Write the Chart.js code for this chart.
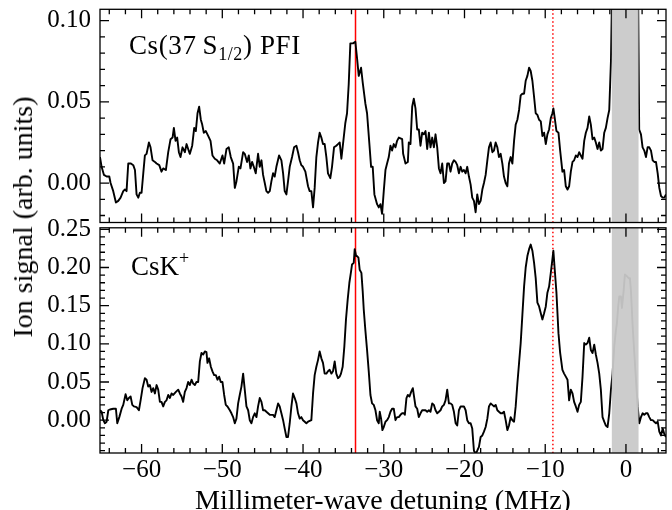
<!DOCTYPE html>
<html>
<head>
<meta charset="utf-8">
<script src="https://cdn.jsdelivr.net/npm/chart.js@4.4.0/dist/chart.umd.min.js"></script>
<style>
html, body { margin: 0; padding: 0; background: #fff; overflow: hidden; }
#wrap { position: relative; width: 672px; height: 510px; font-family: "Liberation Serif", serif; color: #000; }
canvas { position: absolute; left: 0; }
.txt { position: absolute; white-space: nowrap; line-height: 1; }
</style>
</head>
<body>
<div id="wrap">
  <canvas id="chartPfi" width="672" height="226" style="top:0;width:672px;height:226px"></canvas>
  <canvas id="chartCsk" width="672" height="314" style="top:196px;width:672px;height:314px"></canvas>
  <div class="txt" id="annPfi" style="left:129px;top:32px;font-size:27px;letter-spacing:0.6px">Cs(37&#8201;S<span style="font-size:18px;position:relative;top:6px">1/2</span>)&nbsp;PFI</div>
  <div class="txt" id="annCsk" style="left:131px;top:253px;font-size:27px">CsK<span style="font-size:18px;position:relative;top:-11px">+</span></div>
  <div class="txt" id="yTitle" style="left:23px;top:217px;font-size:28px;transform:translate(-50%,-50%) rotate(-90deg)">Ion signal (arb. units)</div>
  <div class="txt" id="xTitle" style="left:383px;top:486px;font-size:28px;transform:translateX(-50%)">Millimeter-wave detuning (MHz)</div>
</div>
<script>
// detuning axis (MHz) + signals
const freqPfi = [
  -65.15, -64.95, -64.66, -64.33, -64.00, -63.84, -63.51, -63.18, -62.89, -62.60,
  -62.27, -62.06, -61.86, -61.65, -61.32, -61.03, -60.82, -60.62, -60.41, -60.21,
  -60.00, -59.79, -59.59, -59.38, -59.09, -58.89, -58.64, -58.35, -58.14, -57.81,
  -57.53, -57.32, -56.99, -56.70, -56.41, -56.16, -56.00, -55.79, -55.59, -55.38,
  -55.18, -54.93, -54.64, -54.43, -54.23, -54.02, -53.73, -53.48, -53.28, -53.07,
  -52.87, -52.66, -52.49, -52.29, -52.04, -51.75, -51.46, -51.22, -50.93, -50.64,
  -50.31, -49.98, -49.77, -49.48, -49.20, -48.95, -48.66, -48.45, -48.25, -47.96,
  -47.75, -47.42, -47.22, -46.93, -46.72, -46.52, -46.31, -46.10, -45.86, -45.57,
  -45.36, -45.15, -44.95, -44.74, -44.54, -44.33, -44.12, -43.92, -43.71, -43.51,
  -43.30, -42.97, -42.68, -42.47, -42.27, -42.06, -41.86, -41.65, -41.36, -41.11,
  -40.82, -40.62, -40.41, -40.21, -40.00, -39.71, -39.38, -39.18, -38.97, -38.76,
  -38.56, -38.35, -38.14, -37.94, -37.73, -37.53, -37.32, -37.11, -36.91, -36.62,
  -36.41, -36.16, -35.88, -35.67, -35.46, -35.25, -35.05, -34.76, -34.55, -34.34,
  -34.14, -33.81, -33.52, -33.31, -33.10, -32.81, -32.61, -32.28, -32.07, -31.78,
  -31.57, -31.37, -31.16, -30.83, -30.62, -30.41, -30.21, -30.00, -29.79, -29.59,
  -29.38, -29.17, -28.97, -28.76, -28.55, -28.35, -28.14, -27.72, -27.60, -27.31,
  -27.02, -26.90, -26.69, -26.48, -26.28, -26.07, -25.86, -25.66, -25.45, -25.24,
  -25.04, -24.83, -24.62, -24.41, -24.21, -24.00, -23.79, -23.59, -23.38, -23.17,
  -22.97, -22.76, -22.55, -22.35, -22.14, -21.93, -21.73, -21.52, -21.31, -21.10,
  -20.90, -20.69, -20.48, -20.28, -20.07, -19.86, -19.66, -19.45, -19.24, -19.04,
  -18.83, -18.62, -18.42, -18.21, -18.00, -17.79, -17.59, -17.38, -17.17, -16.97,
  -16.76, -16.55, -16.35, -16.14, -15.93, -15.73, -15.52, -15.31, -15.11, -14.90,
  -14.69, -14.49, -14.28, -14.07, -13.86, -13.66, -13.45, -13.24, -13.04, -12.83,
  -12.62, -12.42, -12.21, -12.00, -11.80, -11.59, -11.38, -11.18, -10.97, -10.76,
  -10.55, -10.35, -10.14, -9.93, -9.73, -9.52, -9.31, -9.11, -8.99, -8.82,
  -8.61, -8.36, -8.15, -7.87, -7.66, -7.45, -7.24, -7.04, -6.83, -6.62,
  -6.42, -6.21, -6.00, -5.80, -5.59, -5.38, -5.17, -4.97, -4.76, -4.55,
  -4.35, -4.14, -3.93, -3.73, -3.52, -3.31, -3.11, -2.90, -2.69, -2.49,
  -2.28, -2.07, -1.86, -1.70, -1.45, -1.20, -0.95, -0.70, -0.45, -0.20,
  0.05, 0.30, 0.55, 0.80, 1.05, 1.30, 1.50, 1.64, 1.86, 2.06,
  2.27, 2.48, 2.68, 2.89, 3.10, 3.31, 3.51, 3.72, 3.93, 4.13,
  4.34, 4.55, 4.75, 4.96
];
const pfiSignal = [
  0.016, 0.010, 0.005, 0.004, 0.004, 0.000, -0.005, -0.012, -0.011, -0.009,
  -0.005, -0.004, -0.005, 0.012, 0.012, 0.011, 0.008, -0.007, -0.009, -0.006,
  -0.006, 0.006, 0.017, 0.018, 0.025, 0.022, 0.014, 0.013, 0.012, 0.011,
  0.007, 0.009, 0.008, 0.019, 0.027, 0.028, 0.034, 0.026, 0.028, 0.019,
  0.016, 0.022, 0.019, 0.024, 0.021, 0.018, 0.023, 0.034, 0.032, 0.043,
  0.047, 0.039, 0.036, 0.031, 0.032, 0.029, 0.026, 0.017, 0.015, 0.014,
  0.012, 0.017, 0.012, 0.021, 0.022, 0.016, 0.012, -0.003, 0.001, 0.010,
  0.009, 0.019, 0.018, 0.013, 0.017, 0.009, 0.013, 0.010, 0.006, 0.018,
  0.010, 0.014, 0.005, 0.000, -0.005, -0.006, -0.005, 0.001, 0.006, 0.004,
  0.010, 0.017, 0.014, 0.006, -0.005, -0.007, 0.001, 0.010, 0.016, 0.022,
  0.023, 0.019, 0.014, 0.011, 0.010, 0.007, -0.002, -0.005, -0.005, -0.015,
  -0.003, 0.016, 0.025, 0.031, 0.028, 0.024, 0.024, 0.016, 0.006, 0.003,
  0.010, 0.022, 0.023, 0.024, 0.025, 0.015, 0.024, 0.037, 0.043, 0.061,
  0.086, 0.086, 0.087, 0.077, 0.066, 0.071, 0.062, 0.049, 0.043, 0.024,
  0.010, 0.010, -0.007, -0.013, -0.015, -0.013, -0.019, -0.005, 0.008, 0.012,
  0.016, 0.023, 0.020, 0.024, 0.022, 0.026, 0.028, 0.027, 0.018, 0.012,
  0.013, 0.025, 0.024, 0.047, 0.052, 0.046, 0.033, 0.033, 0.023, 0.031,
  0.030, 0.032, 0.021, 0.031, 0.022, 0.028, 0.022, 0.030, 0.022, 0.009,
  0.006, 0.012, 0.000, 0.001, 0.012, 0.012, 0.007, 0.012, 0.014, 0.013,
  0.011, 0.006, 0.010, 0.007, 0.008, 0.006, 0.010, 0.004, -0.001, -0.009,
  -0.011, -0.018, -0.007, -0.013, -0.011, -0.004, 0.000, 0.005, 0.014, 0.022,
  0.025, 0.019, 0.020, 0.025, 0.022, 0.016, 0.018, 0.012, 0.004, 0.000,
  -0.002, 0.012, 0.016, 0.012, 0.026, 0.036, 0.039, 0.045, 0.054, 0.055,
  0.055, 0.063, 0.066, 0.071, 0.069, 0.063, 0.053, 0.043, 0.042, 0.039,
  0.038, 0.029, 0.031, 0.024, 0.030, 0.033, 0.040, 0.043, 0.046, 0.040,
  0.032, 0.031, 0.020, 0.007, 0.008, -0.002, -0.004, -0.002, 0.007, 0.013,
  0.014, 0.017, 0.016, 0.019, 0.017, 0.015, 0.026, 0.031, 0.034, 0.041,
  0.036, 0.027, 0.028, 0.025, 0.021, 0.025, 0.020, 0.021, 0.031, 0.034,
  0.040, 0.045, 0.075, 0.125, 0.140, 0.155, 0.160, 0.155, 0.165, 0.175,
  0.180, 0.170, 0.160, 0.150, 0.140, 0.130, 0.120, 0.033, 0.030, 0.022,
  0.020, 0.016, 0.022, 0.022, 0.020, 0.014, 0.013, 0.013, 0.006, -0.003,
  -0.008, -0.009, -0.009, -0.007
];

const freqCsk = [
  -65.15, -64.95, -64.74, -64.54, -64.33, -64.12, -63.92, -63.51, -63.18, -63.01,
  -62.76, -62.47, -62.27, -61.98, -61.77, -61.57, -61.36, -61.15, -60.95, -60.62,
  -60.33, -60.12, -59.88, -59.59, -59.38, -59.18, -58.97, -58.76, -58.56, -58.35,
  -58.14, -57.94, -57.73, -57.53, -57.32, -57.11, -56.91, -56.70, -56.49, -56.29,
  -56.08, -55.75, -55.46, -55.26, -55.05, -54.85, -54.64, -54.43, -54.23, -54.02,
  -53.81, -53.61, -53.40, -53.20, -52.99, -52.78, -52.58, -52.37, -52.16, -51.96,
  -51.84, -51.63, -51.42, -51.22, -51.01, -50.80, -50.60, -50.39, -50.19, -49.98,
  -49.77, -49.57, -49.36, -49.07, -48.87, -48.66, -48.45, -48.25, -48.04, -47.84,
  -47.63, -47.42, -47.22, -47.01, -46.80, -46.60, -46.39, -46.19, -45.98, -45.77,
  -45.57, -45.36, -45.15, -44.95, -44.74, -44.54, -44.33, -44.12, -43.92, -43.71,
  -43.51, -43.30, -43.09, -42.89, -42.68, -42.47, -42.27, -42.06, -41.86, -41.65,
  -41.44, -41.24, -41.03, -40.82, -40.62, -40.41, -40.21, -40.00, -39.79, -39.59,
  -39.38, -38.97, -38.76, -38.56, -38.35, -38.14, -37.94, -37.73, -37.53, -37.32,
  -37.11, -36.91, -36.70, -36.49, -36.29, -36.08, -35.88, -35.67, -35.46, -35.30,
  -35.09, -34.88, -34.68, -34.47, -34.26, -34.05, -33.93, -33.72, -33.60, -33.43,
  -33.31, -33.14, -32.98, -32.77, -32.61, -32.48, -32.28, -32.07, -31.86, -31.65,
  -31.45, -31.24, -31.03, -30.83, -30.62, -30.50, -30.33, -30.17, -30.00, -29.79,
  -29.59, -29.38, -29.17, -28.97, -28.76, -28.55, -28.35, -28.14, -27.93, -27.72,
  -27.52, -27.39, -27.19, -27.02, -26.81, -26.61, -26.40, -26.28, -26.07, -25.86,
  -25.66, -25.45, -25.24, -25.04, -24.83, -24.62, -24.41, -24.21, -24.00, -23.79,
  -23.59, -23.38, -23.17, -22.97, -22.76, -22.55, -22.35, -22.14, -21.93, -21.73,
  -21.52, -21.31, -21.10, -20.90, -20.69, -20.48, -20.28, -20.07, -19.86, -19.66,
  -19.45, -19.24, -19.04, -18.83, -18.62, -18.42, -18.21, -18.00, -17.79, -17.59,
  -17.38, -17.17, -16.97, -16.76, -16.55, -16.35, -16.14, -15.93, -15.73, -15.52,
  -15.31, -15.11, -14.90, -14.69, -14.49, -14.28, -14.07, -13.86, -13.66, -13.45,
  -13.24, -13.04, -12.83, -12.62, -12.42, -12.21, -12.00, -11.80, -11.59, -11.38,
  -11.18, -10.97, -10.76, -10.55, -10.35, -10.14, -9.93, -9.73, -9.52, -9.31,
  -9.11, -8.99, -8.82, -8.61, -8.36, -8.15, -7.87, -7.66, -7.45, -7.24,
  -7.04, -6.83, -6.62, -6.42, -6.21, -6.00, -5.80, -5.59, -5.38, -5.17,
  -4.97, -4.76, -4.55, -4.35, -4.14, -3.93, -3.73, -3.52, -3.31, -3.11,
  -2.90, -2.69, -2.49, -2.28, -2.07, -1.86, -1.66, -1.45, -1.24, -1.12,
  -0.96, -0.83, -0.62, -0.50, -0.29, -0.13, 0.08, 0.33, 0.49, 0.62,
  0.83, 1.03, 1.24, 1.45, 1.65, 1.86, 2.06, 2.27, 2.48, 2.68,
  2.89, 3.10, 3.31, 3.51, 3.72, 3.93, 4.13, 4.34, 4.55, 4.75,
  4.96
];
const cskSignal = [
  0.013, 0.011, 0.000, -0.004, -0.002, 0.013, 0.014, 0.015, 0.015, -0.004,
  0.004, 0.015, 0.020, 0.034, 0.026, 0.029, 0.031, 0.020, 0.018, 0.017,
  0.013, 0.026, 0.042, 0.055, 0.053, 0.044, 0.046, 0.037, 0.042, 0.035,
  0.046, 0.040, 0.024, 0.024, 0.018, 0.024, 0.026, 0.033, 0.029, 0.035,
  0.033, 0.037, 0.040, 0.035, 0.031, 0.024, 0.037, 0.042, 0.050, 0.046,
  0.053, 0.048, 0.046, 0.050, 0.050, 0.077, 0.088, 0.086, 0.090, 0.089,
  0.075, 0.081, 0.070, 0.064, 0.059, 0.059, 0.053, 0.057, 0.050, 0.050,
  0.033, 0.020, 0.018, 0.013, 0.009, 0.004, -0.004, 0.002, 0.022, 0.033,
  0.044, 0.061, 0.040, 0.018, 0.013, 0.000, -0.004, 0.004, 0.009, 0.004,
  0.018, 0.029, 0.024, 0.013, 0.013, 0.011, 0.009, 0.007, 0.007, 0.007,
  0.004, 0.013, 0.022, 0.018, 0.009, 0.000, -0.011, -0.022, -0.022, -0.004,
  0.018, 0.035, 0.029, 0.022, 0.009, 0.002, 0.004, 0.000, -0.002, -0.004,
  -0.002, 0.000, 0.035, 0.059, 0.070, 0.079, 0.090, 0.081, 0.075, 0.061,
  0.061, 0.064, 0.066, 0.061, 0.064, 0.077, 0.061, 0.055, 0.057, 0.061,
  0.070, 0.097, 0.132, 0.158, 0.180, 0.195, 0.204, 0.206, 0.224, 0.215,
  0.215, 0.213, 0.197, 0.193, 0.169, 0.145, 0.118, 0.092, 0.064, 0.033,
  0.022, 0.020, 0.013, 0.000, -0.004, 0.011, 0.002, -0.013, -0.009, -0.002,
  0.000, 0.004, 0.011, 0.015, 0.015, 0.000, 0.004, 0.004, 0.007, 0.009,
  0.009, 0.007, 0.029, 0.033, 0.031, 0.037, 0.042, 0.033, 0.018, 0.015,
  0.004, 0.009, 0.013, 0.013, 0.013, 0.011, 0.013, 0.011, 0.022, 0.020,
  0.013, 0.009, 0.011, 0.013, 0.018, 0.020, 0.026, 0.040, 0.022, 0.022,
  0.020, 0.011, -0.004, -0.007, 0.013, 0.018, 0.018, 0.018, 0.013, 0.000,
  -0.004, -0.004, -0.011, -0.040, -0.044, -0.040, -0.035, -0.022, -0.020, -0.015,
  -0.009, 0.002, 0.018, 0.022, 0.020, 0.018, 0.020, 0.013, 0.011, 0.009,
  0.009, 0.011, 0.000, -0.013, -0.007, 0.004, 0.000, -0.002, 0.018, 0.048,
  0.075, 0.101, 0.138, 0.175, 0.200, 0.215, 0.224, 0.230, 0.222, 0.206,
  0.186, 0.154, 0.149, 0.140, 0.132, 0.140, 0.149, 0.167, 0.175, 0.193,
  0.211, 0.222, 0.197, 0.167, 0.114, 0.088, 0.066, 0.061, 0.057, 0.053,
  0.026, 0.040, 0.035, 0.024, 0.018, 0.011, 0.020, 0.024, 0.057, 0.101,
  0.099, 0.101, 0.108, 0.092, 0.088, 0.099, 0.086, 0.075, 0.061, 0.040,
  0.004, -0.002, -0.007, -0.009, 0.009, 0.040, 0.061, 0.097, 0.118, 0.127,
  0.149, 0.162, 0.162, 0.147, 0.169, 0.191, 0.189, 0.186, 0.186, 0.169,
  0.123, 0.088, 0.053, 0.018, -0.004, 0.004, 0.009, 0.007, 0.009, 0.009,
  0.004, 0.000, 0.000, -0.002, -0.004, -0.002, -0.015, -0.020, -0.011, -0.018,
  -0.022
];

// ticks
const xMajorTicks = [-60, -50, -40, -30, -20, -10, 0];
const xMinorTicks = [-64, -62, -58, -56, -54, -52, -48, -46, -44, -42, -38, -36, -34, -32,
  -28, -26, -24, -22, -18, -16, -14, -12, -8, -6, -4, -2, 2, 4];
const pfiMajorTicks = [0, 0.05, 0.10];
const pfiMinorTicks = [-0.02, -0.01, 0.01, 0.02, 0.03, 0.04, 0.06, 0.07, 0.08, 0.09];
const cskMajorTicks = [0, 0.05, 0.10, 0.15, 0.20, 0.25];
const cskMinorTicks = [-0.04, -0.03, -0.02, -0.01, 0.01, 0.02, 0.03, 0.04, 0.06, 0.07, 0.08, 0.09,
  0.11, 0.12, 0.13, 0.14, 0.16, 0.17, 0.18, 0.19, 0.21, 0.22, 0.23, 0.24];

// markers
const lineSolidAt = -33.5;
const lineDottedAt = -9.05;
const excludedBand = [-1.75, 1.56];

const xMin = -65.15, xMax = 4.96;
const tickFont = { family: 'Liberation Serif', size: 25 };

const panelDecor = {
  id: 'panelDecor',
  beforeDatasetsDraw(chart) {
    const { ctx, chartArea: a, scales: { x } } = chart;
    ctx.save();
    ctx.beginPath();
    ctx.rect(a.left, a.top, a.right - a.left, a.bottom - a.top);
    ctx.clip();
    ctx.strokeStyle = '#ff0000';
    ctx.lineWidth = 1.5;
    let px = x.getPixelForValue(lineSolidAt);
    ctx.beginPath(); ctx.moveTo(px, a.top); ctx.lineTo(px, a.bottom); ctx.stroke();
    ctx.setLineDash([1.5, 2.5]);
    px = x.getPixelForValue(lineDottedAt);
    ctx.beginPath(); ctx.moveTo(px, a.top); ctx.lineTo(px, a.bottom); ctx.stroke();
    ctx.restore();
  },
  afterDatasetsDraw(chart, args, opts) {
    const { ctx, chartArea: a, scales: { x, y } } = chart;
    ctx.save();
    // grey band drawn over the trace
    const b0 = x.getPixelForValue(excludedBand[0]);
    const b1 = x.getPixelForValue(excludedBand[1]);
    ctx.fillStyle = 'rgba(201,201,201,0.945)';
    ctx.fillRect(b0, a.top, b1 - b0, a.bottom - a.top);

    ctx.strokeStyle = '#000';
    ctx.lineWidth = 1.3;
    ctx.strokeRect(a.left, a.top, a.right - a.left, a.bottom - a.top);

    const ticksX = (vals, len) => vals.forEach(v => {
      const p = x.getPixelForValue(v);
      ctx.beginPath();
      ctx.moveTo(p, a.bottom); ctx.lineTo(p, a.bottom - len);
      ctx.moveTo(p, a.top); ctx.lineTo(p, a.top + len);
      ctx.stroke();
    });
    const ticksY = (vals, len) => vals.forEach(v => {
      const p = y.getPixelForValue(v);
      ctx.beginPath();
      ctx.moveTo(a.left, p); ctx.lineTo(a.left + len, p);
      ctx.moveTo(a.right, p); ctx.lineTo(a.right - len, p);
      ctx.stroke();
    });
    ticksX(xMajorTicks, 9);
    ticksX(xMinorTicks, 5);
    ticksY(opts.major, 9);
    ticksY(opts.minor, 5);
    ctx.restore();
  }
};

function makePanel(canvasId, freq, signal, yMin, yMax, yMajor, yMinor, withX, pad) {
  const points = freq.map((f, i) => ({ x: f, y: signal[i] }));
  return new Chart(document.getElementById(canvasId), {
    type: 'scatter',
    data: {
      datasets: [{
        data: points,
        showLine: true,
        borderColor: '#000',
        borderWidth: 1.9,
        borderJoinStyle: 'round',
        pointRadius: 0,
        tension: 0
      }]
    },
    options: {
      responsive: false,
      animation: false,
      events: [],
      layout: { padding: pad },
      plugins: {
        legend: { display: false },
        tooltip: { enabled: false },
        panelDecor: { major: yMajor, minor: yMinor }
      },
      scales: {
        x: {
          type: 'linear',
          min: xMin,
          max: xMax,
          grid: { display: false, drawTicks: false },
          border: { display: false },
          afterBuildTicks: s => { s.ticks = xMajorTicks.map(v => ({ value: v })); },
          afterFit: s => { s.height = withX ? 57 : 0; s.paddingLeft = 0; s.paddingRight = 0; },
          ticks: {
            display: withX,
            padding: 2,
            maxRotation: 0,
            autoSkip: false,
            color: '#000',
            font: tickFont,
            callback: v => (v < 0 ? '\u2212' + Math.abs(v) : String(v))
          }
        },
        y: {
          type: 'linear',
          min: yMin,
          max: yMax,
          grid: { display: false, drawTicks: false },
          border: { display: false },
          afterBuildTicks: s => { s.ticks = yMajor.map(v => ({ value: v })); },
          afterFit: s => { s.width = 100; s.paddingTop = 0; s.paddingBottom = 0; },
          ticks: {
            padding: 9,
            color: '#000',
            font: tickFont,
            callback: v => v.toFixed(2)
          }
        }
      }
    },
    plugins: [panelDecor]
  });
}

makePanel('chartPfi', freqPfi, pfiSignal, -0.0243, 0.107, pfiMajorTicks, pfiMinorTicks, false,
  { top: 9.3, bottom: 3.5, left: 0, right: 6 });
makePanel('chartCsk', freqCsk, cskSignal, -0.043, 0.252, cskMajorTicks, cskMinorTicks, true,
  { top: 31.8, bottom: 0, left: 0, right: 6 });
</script>
</body>
</html>
